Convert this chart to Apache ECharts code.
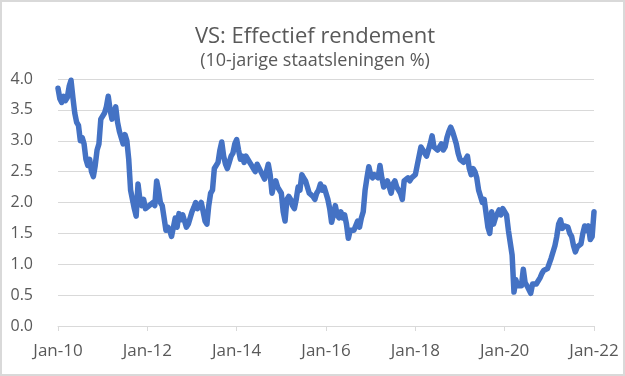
<!DOCTYPE html>
<html>
<head>
<meta charset="utf-8">
<script src="https://cdn.jsdelivr.net/npm/echarts@6/dist/echarts.min.js"></script>
<style>
  html, body { margin: 0; padding: 0; background: #fff; }
  #chart { width: 625px; height: 376px; box-sizing: border-box; border: 2px solid #d9d9d9; }
</style>
</head>
<body>
<div id="chart"></div>
<script>
const yield2010 = [3.85, 3.68, 3.62, 3.72, 3.65, 3.70, 3.88, 3.98, 3.70, 3.45, 3.30, 3.25, 3.00, 3.05, 2.95, 2.70, 2.60, 2.70, 2.50, 2.42, 2.60, 2.85, 2.95, 3.35];
const yield2011 = [3.35, 3.45, 3.55, 3.72, 3.50, 3.35, 3.45, 3.55, 3.30, 3.15, 3.05, 2.95, 3.10, 3.00, 2.70, 2.20, 2.05, 1.90, 1.78, 2.30, 2.05, 1.95, 2.05, 1.90];
const yield2012 = [1.90, 1.95, 1.95, 2.00, 1.95, 2.35, 2.20, 2.00, 1.95, 1.75, 1.55, 1.60, 1.55, 1.45, 1.60, 1.75, 1.60, 1.82, 1.72, 1.80, 1.70, 1.60, 1.65, 1.75];
const yield2013 = [1.85, 1.92, 2.00, 1.90, 1.90, 2.00, 1.85, 1.70, 1.65, 1.95, 2.15, 2.20, 2.55, 2.55, 2.65, 2.85, 2.98, 2.75, 2.62, 2.55, 2.65, 2.75, 2.80, 2.95];
const yield2014 = [3.02, 2.85, 2.70, 2.75, 2.65, 2.75, 2.75, 2.65, 2.60, 2.55, 2.50, 2.62, 2.60, 2.50, 2.50, 2.38, 2.40, 2.62, 2.45, 2.15, 2.30, 2.35, 2.25, 2.20];
const yield2015 = [2.15, 1.85, 1.70, 2.05, 2.10, 2.05, 1.95, 1.90, 2.05, 2.25, 2.20, 2.45, 2.40, 2.35, 2.25, 2.15, 2.15, 2.10, 2.05, 2.15, 2.20, 2.30, 2.20, 2.25];
const yield2016 = [2.25, 2.05, 1.90, 1.68, 1.80, 1.95, 1.80, 1.75, 1.85, 1.75, 1.80, 1.65, 1.42, 1.55, 1.55, 1.55, 1.55, 1.70, 1.60, 1.75, 1.85, 2.20, 2.40, 2.58];
const yield2017 = [2.45, 2.40, 2.45, 2.45, 2.40, 2.60, 2.40, 2.25, 2.30, 2.35, 2.25, 2.15, 2.30, 2.35, 2.25, 2.20, 2.15, 2.05, 2.35, 2.35, 2.40, 2.35, 2.40, 2.40];
const yield2018 = [2.45, 2.60, 2.75, 2.90, 2.85, 2.85, 2.75, 2.85, 2.95, 3.08, 2.90, 2.90, 2.85, 2.90, 2.95, 2.85, 2.90, 3.05, 3.15, 3.22, 3.15, 3.05, 2.95, 2.80];
const yield2019 = [2.70, 2.70, 2.65, 2.65, 2.75, 2.55, 2.45, 2.55, 2.50, 2.40, 2.20, 2.10, 2.00, 2.05, 2.05, 1.60, 1.50, 1.85, 1.65, 1.75, 1.75, 1.88, 1.80, 1.90];
const yield2020 = [1.90, 1.80, 1.55, 1.55, 1.15, 0.55, 0.75, 0.65, 0.65, 0.65, 0.92, 0.70, 0.65, 0.62, 0.53, 0.68, 0.70, 0.68, 0.68, 0.78, 0.85, 0.90, 0.92, 0.93];
const yield2021 = [0.93, 1.10, 1.10, 1.30, 1.45, 1.65, 1.72, 1.58, 1.62, 1.65, 1.60, 1.50, 1.45, 1.30, 1.20, 1.28, 1.30, 1.33, 1.50, 1.62, 1.55, 1.62, 1.40, 1.45];
const yield2022 = [1.85];

const yieldValues = [].concat(yield2010, yield2011, yield2012, yield2013, yield2014, yield2015,
  yield2016, yield2017, yield2018, yield2019, yield2020, yield2021, yield2022);

// x axis runs in months since Jan 2010, labelled every two years
const tickYears = ['Jan-10', 'Jan-12', 'Jan-14', 'Jan-16', 'Jan-18', 'Jan-20', 'Jan-22'];

const chart = echarts.init(document.getElementById('chart'));
const textColor = '#595959';

const option = {
  animation: false,
  title: [
    {
      text: 'VS: Effectief rendement',
      left: 308,
      textAlign: 'center',
      top: 19,
      textStyle: { fontFamily: 'Open Sans', fontSize: 22, fontWeight: 'normal', color: textColor }
    },
    {
      text: '(10-jarige staatsleningen %)',
      left: 308,
      textAlign: 'center',
      top: 45,
      textStyle: { fontFamily: 'Open Sans', fontSize: 18, fontWeight: 'normal', color: textColor }
    }
  ],
  grid: { left: 56, right: 29, top: 77, bottom: 48 },
  xAxis: {
    type: 'value',
    min: 0,
    max: 144,
    interval: 24,
    axisLine: { lineStyle: { color: '#d9d9d9', width: 1 } },
    axisTick: { show: true, length: 5, lineStyle: { color: '#d9d9d9' } },
    splitLine: { show: false },
    axisLabel: {
      margin: 17,
      fontFamily: 'Open Sans',
      fontSize: 17,
      color: textColor,
      formatter: (v) => tickYears[Math.round(v / 24)]
    }
  },
  yAxis: {
    type: 'value',
    min: 0,
    max: 4,
    interval: 0.5,
    axisLine: { show: false },
    axisTick: { show: false },
    splitLine: { lineStyle: { color: '#d9d9d9', width: 1 } },
    axisLabel: {
      margin: 25,
      fontFamily: 'Open Sans',
      fontSize: 16,
      color: textColor,
      formatter: (v) => v.toFixed(1)
    }
  },
  series: [
    {
      type: 'line',
      data: yieldValues.map((v, i) => [i / 2, v]),
      showSymbol: false,
      lineStyle: { color: '#4472C4', width: 5.5, join: 'round', cap: 'round' }
    }
  ]
};

chart.setOption(option);
</script>
</body>
</html>
